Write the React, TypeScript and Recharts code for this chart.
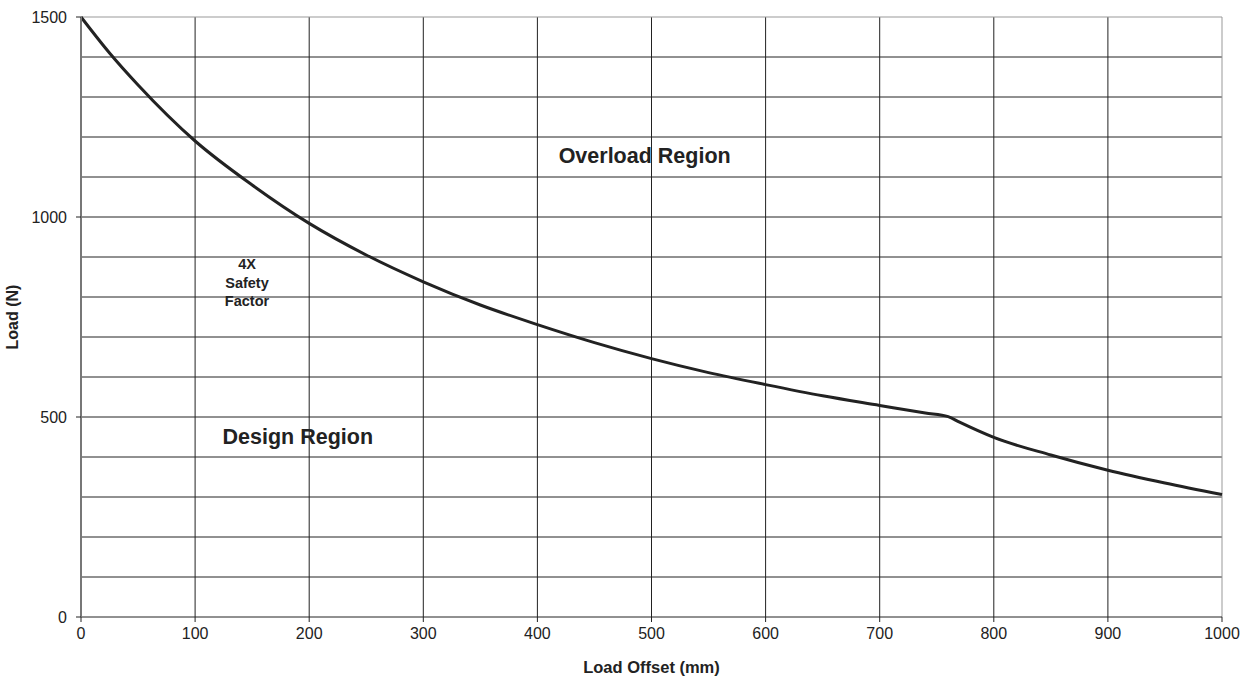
import { LineChart, Line, XAxis, YAxis, CartesianGrid, ReferenceLine, ReferenceDot, Label } from 'recharts';

const offsets = [0, 25, 50, 100, 150, 200, 250, 300, 350, 400, 450, 500, 550, 600, 650, 700, 740, 760, 770, 800, 850, 900, 950, 1000];
const loads = [1500, 1410, 1330, 1190, 1080, 984, 905, 838, 780, 731, 686, 646, 611, 581, 553, 529, 510, 501, 487, 449, 405, 367, 335, 306];

const xTicks = [0, 100, 200, 300, 400, 500, 600, 700, 800, 900, 1000];
const yTicks = [0, 500, 1000, 1500];
const gridX = [100, 200, 300, 400, 500, 600, 700, 800, 900];
const gridY = [100, 200, 300, 400, 500, 600, 700, 800, 900, 1000, 1100, 1200, 1300, 1400];

const data = offsets.map((x, i) => ({ x, load: loads[i] }));

const font = 'Liberation Sans, Arial, sans-serif';

const TextMark = (lines: string[], size: number, lh: number) => (props: any) => {
  const { cx, cy } = props;
  const start = cy - ((lines.length - 1) * lh) / 2;
  return (
    <text x={cx} textAnchor="middle" fontFamily={font} fontWeight="bold" fontSize={size} fill="#222">
      {lines.map((l, i) => (
        <tspan key={i} x={cx} y={start + i * lh} dy="0.36em">{l}</tspan>
      ))}
    </text>
  );
};

export default function App() {
  return (
    <div style={{ position: 'absolute', left: 0, top: 0, background: '#fff' }}>
      <LineChart width={1251} height={681} data={data} margin={{ top: 17, right: 29, left: 0, bottom: 0 }}>
        <CartesianGrid stroke="#222" strokeWidth={1} horizontalValues={gridY} verticalValues={gridX} />
        <ReferenceLine y={1500} stroke="#999" strokeWidth={1} />
        <ReferenceLine x={1000} stroke="#999" strokeWidth={1} />
        <XAxis
          dataKey="x"
          type="number"
          domain={[0, 1000]}
          ticks={xTicks}
          stroke="#222"
          tickSize={5}
          tickMargin={6}
          height={64}
          tick={{ fontFamily: font, fontSize: 16, fill: '#222' }}
        >
          <Label value="Load Offset (mm)" position="insideBottom" offset={8} style={{ fontFamily: font, fontSize: 16.5, fontWeight: 'bold', fill: '#222' }} />
        </XAxis>
        <YAxis
          type="number"
          domain={[0, 1500]}
          ticks={yTicks}
          stroke="#777"
          strokeWidth={2}
          width={81}
          tickSize={5}
          tickMargin={9}
          tickLine={{ stroke: '#222', strokeWidth: 1 }}
          tick={{ fontFamily: font, fontSize: 16, fill: '#222' }}
        >
          <Label value="Load (N)" angle={-90} position="insideLeft" offset={12} style={{ fontFamily: font, fontSize: 16, fontWeight: 'bold', fill: '#222', textAnchor: 'middle' }} />
        </YAxis>
        <ReferenceDot x={494} y={1155} r={0} shape={TextMark(['Overload Region'], 21.5, 0)} />
        <ReferenceDot x={190} y={452} r={0} shape={TextMark(['Design Region'], 21.5, 0)} />
        <ReferenceDot x={145.5} y={836} r={0} shape={TextMark(['4X', 'Safety', 'Factor'], 14.5, 18.5)} />
        <Line type="monotone" dataKey="load" stroke="#222" strokeWidth={3} dot={false} isAnimationActive={false} />
      </LineChart>
    </div>
  );
}
